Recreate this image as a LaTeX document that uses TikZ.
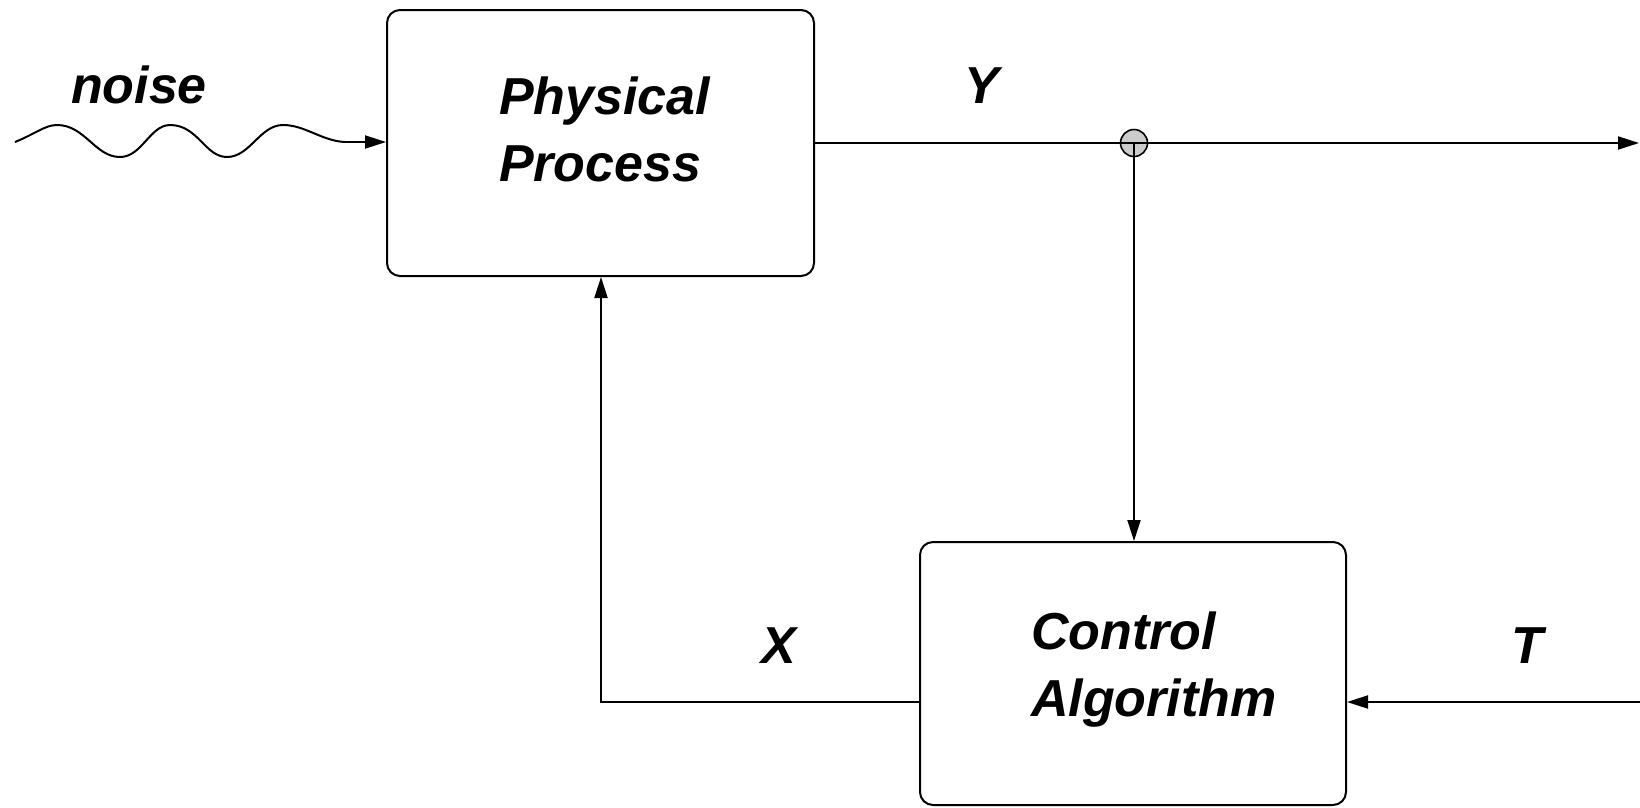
\documentclass[tikz,border=0pt]{standalone}
\usepackage{fontspec}
\setmainfont{Liberation Sans}
\usetikzlibrary{arrows.meta}
\begin{document}
\begin{tikzpicture}[x=1pt,y=-1pt,
  line width=2pt,
  box/.style={draw, rounded corners=13pt, inner sep=0pt},
  lbl/.style={font=\fontsize{52}{67}\selectfont\bfseries\itshape, inner sep=0pt},
  blk/.style={lbl, align=left, anchor=west},
  arr/.style={-{Triangle[length=21pt,width=13pt]}}
]
\useasboundingbox (0,0) rectangle (1640,807);
% boxes
\node[box, minimum width=427pt, minimum height=266pt] (pp) at (600.5,143) {};
\node[box, minimum width=426pt, minimum height=263pt] (ca) at (1133,673.5) {};
\node[blk] (pptext) at (498,129.5) {Physical\\Process};
\node[blk] (catext) at (1030,670) {Control\\Algorithm};
% labels
\node[lbl, anchor=base west] (noise) at (70,103) {noise};
\node[lbl, anchor=base] (ylab) at (982,103) {Y};
\node[lbl, anchor=base] (xlab) at (779,663) {X};
\node[lbl, anchor=base] (tlab) at (1527,663) {T};
% junction and coordinates
\coordinate (j) at (1134,143);
\coordinate (yout) at (1639,143);
\coordinate (tin) at (1640,702);
\coordinate (fbl) at (601,702);
\coordinate (nstart) at (15,142);
\coordinate (nend) at (345,142);
% noise wave
\draw (nstart) .. controls (35,134) and (45,125) .. (57,125)
  .. controls (85,125) and (95,157) .. (120,157)
  .. controls (142,157) and (150,125) .. (170,125)
  .. controls (198,125) and (205,157) .. (227,157)
  .. controls (250,157) and (260,125) .. (283,125)
  .. controls (305,125) and (322,141) .. (nend);
\draw[arr] (nend) -- (nend -| pp.west);
% output Y
\draw[arr] (pp.east |- j) -- (yout);
% down to control
\draw[arr] (j) -- (j |- ca.north);
% feedback X
\draw[arr] (ca.west |- fbl) -- (fbl) -- (fbl |- pp.south);
% input T
\draw[arr] (tin) -- (tin -| ca.east);
% junction dot
\node[draw, circle, fill=gray!40, minimum size=27pt, inner sep=0pt, line width=1.6pt] (jdot) at (j) {};
\draw (jdot.center) -- (jdot.east);
\draw (jdot.center) -- (jdot.west);
\draw (jdot.center) -- (jdot.south);
\end{tikzpicture}
\end{document}
